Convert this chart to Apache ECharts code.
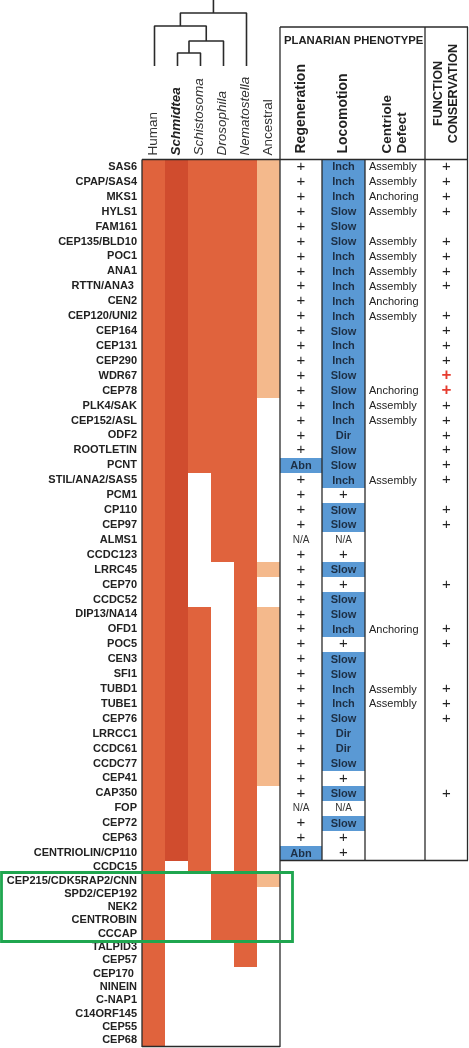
<!DOCTYPE html>
<html><head><meta charset="utf-8">
<script src="https://cdn.jsdelivr.net/npm/echarts@6/dist/echarts.min.js"></script>
<style>html,body{margin:0;padding:0;background:#fff}#c{width:469px;height:1048px}</style>
</head><body><div id="c"></div>
<script>
// ---------------- DATA ----------------
const species = ['Human','Schmidtea','Schistosoma','Drosophila','Nematostella','Ancestral'];

const genes = ['SAS6','CPAP/SAS4','MKS1','HYLS1','FAM161','CEP135/BLD10','POC1','ANA1','RTTN/ANA3 ','CEN2',
 'CEP120/UNI2','CEP164','CEP131','CEP290','WDR67','CEP78','PLK4/SAK','CEP152/ASL','ODF2','ROOTLETIN',
 'PCNT','STIL/ANA2/SAS5','PCM1','CP110','CEP97','ALMS1','CCDC123','LRRC45','CEP70','CCDC52',
 'DIP13/NA14','OFD1','POC5','CEN3','SFI1','TUBD1','TUBE1','CEP76','LRRCC1','CCDC61',
 'CCDC77','CEP41','CAP350','FOP','CEP72','CEP63','CENTRIOLIN/CP110','CCDC15','CEP215/CDK5RAP2/CNN','SPD2/CEP192',
 'NEK2','CENTROBIN','CCCAP','TALPID3','CEP57','CEP170 ','NINEIN','C-NAP1','C14ORF145','CEP55',
 'CEP68'];

// presence (1) / absence (0) per gene, in gene order
const human =        [1,1,1,1,1,1,1,1,1,1, 1,1,1,1,1,1,1,1,1,1, 1,1,1,1,1,1,1,1,1,1, 1,1,1,1,1,1,1,1,1,1, 1,1,1,1,1,1,1,1,1,1, 1,1,1,1,1,1,1,1,1,1, 1];
const schmidtea =    [1,1,1,1,1,1,1,1,1,1, 1,1,1,1,1,1,1,1,1,1, 1,1,1,1,1,1,1,1,1,1, 1,1,1,1,1,1,1,1,1,1, 1,1,1,1,1,1,1,0,0,0, 0,0,0,0,0,0,0,0,0,0, 0];
const schistosoma =  [1,1,1,1,1,1,1,1,1,1, 1,1,1,1,1,1,1,1,1,1, 1,0,0,0,0,0,0,0,0,0, 1,1,1,1,1,1,1,1,1,1, 1,1,1,1,1,1,1,1,0,0, 0,0,0,0,0,0,0,0,0,0, 0];
const drosophila =   [1,1,1,1,1,1,1,1,1,1, 1,1,1,1,1,1,1,1,1,1, 1,1,1,1,1,1,1,0,0,0, 0,0,0,0,0,0,0,0,0,0, 0,0,0,0,0,0,0,0,1,1, 1,1,1,0,0,0,0,0,0,0, 0];
const nematostella = [1,1,1,1,1,1,1,1,1,1, 1,1,1,1,1,1,1,1,1,1, 1,1,1,1,1,1,1,1,1,1, 1,1,1,1,1,1,1,1,1,1, 1,1,1,1,1,1,1,1,1,1, 1,1,1,1,1,0,0,0,0,0, 0];
const ancestral =    [1,1,1,1,1,1,1,1,1,1, 1,1,1,1,1,1,0,0,0,0, 0,0,0,0,0,0,0,1,0,0, 1,1,1,1,1,1,1,1,1,1, 1,1,0,0,0,0,0,0,1,0, 0,0,0,0,0,0,0,0,0,0, 0];
const presence = [human, schmidtea, schistosoma, drosophila, nematostella, ancestral];

// dendrogram: ((Human, ((Schmidtea, Schistosoma), Drosophila)), Nematostella)
const treeHeights = { schSch: 13, withDros: 25, withHuman: 40, root: 53, stem: 66 };

// planarian phenotype table (first 47 genes)
const regeneration = ['+','+','+','+','+','+','+','+','+','+', '+','+','+','+','+','+','+','+','+','+',
 'Abn','+','+','+','+','N/A','+','+','+','+', '+','+','+','+','+','+','+','+','+','+',
 '+','+','+','N/A','+','+','Abn'];
const locomotion = ['Inch','Inch','Inch','Slow','Slow','Slow','Inch','Inch','Inch','Inch',
 'Inch','Slow','Inch','Inch','Slow','Slow','Inch','Inch','Dir','Slow',
 'Slow','Inch','+','Slow','Slow','N/A','+','Slow','+','Slow',
 'Slow','Inch','+','Slow','Slow','Inch','Inch','Slow','Dir','Dir',
 'Slow','+','Slow','N/A','Slow','+','+'];
const centrioleDefect = ['Assembly','Assembly','Anchoring','Assembly','','Assembly','Assembly','Assembly','Assembly','Anchoring',
 'Assembly','','','','','Anchoring','Assembly','Assembly','','',
 '','Assembly','','','','','','','','',
 '','Anchoring','','','','Assembly','Assembly','','','',
 '','','','','','',''];
const conservation = ['+','+','+','+','','+','+','+','+','',
 '+','+','+','+','+','+','+','+','+','+',
 '+','+','','+','+','','','','+','',
 '','+','+','','','+','+','+','','',
 '','','+','','','',''];
const conservationHighlight = ['WDR67','CEP78'];
const tableHeaders = ['Regeneration','Locomotion','Centriole\nDefect','FUNCTION\nCONSERVATION'];

// ---------------- STYLE / LAYOUT ----------------
const FONT = '"Liberation Sans", Arial, Helvetica, sans-serif';
const speciesColors = ['#E0633D','#D04C2E','#E0633D','#E0633D','#E0633D','#F4B98C'];
const BLUE = '#5A99D4';
const LINE = '#2a2a2a';
const N1 = 47; // rows in upper block (with phenotype table)
const ROT = -90;

const chart = echarts.init(document.getElementById('c'), null, {renderer: 'canvas'});

// heatmap cells
const heatTop = [], heatBottom = [];
presence.forEach((arr, s) => arr.forEach((v, r) => {
  if (!v) return;
  if (r < N1) heatTop.push([s, r]); else heatBottom.push([s, r - N1]);
}));
function snapRect(c, sz) {
  const x0 = Math.round(c[0] - sz[0] / 2), x1 = Math.round(c[0] + sz[0] / 2);
  const y0 = Math.round(c[1] - sz[1] / 2), y1 = Math.round(c[1] + sz[1] / 2);
  return {x: x0, y: y0, width: x1 - x0, height: y1 - y0};
}
function heatCell(params, api) {
  const s = api.value(0), r = api.value(1);
  const c = api.coord([s, r]);
  const sz = api.size([1, 1]);
  return {type: 'rect', shape: snapRect(c, sz), style: {fill: speciesColors[s]}};
}

// dendrogram segments
const tips = {};
species.slice(0, 5).forEach((n, i) => tips[n] = {x: i + 0.5, h: 0});
const segs = [];
function join(a, b, h) {
  segs.push([[a.x, a.h], [a.x, h], [b.x, h], [b.x, b.h]]);
  return {x: (a.x + b.x) / 2, h: h};
}
const nA = join(tips.Schmidtea, tips.Schistosoma, treeHeights.schSch);
const nB = join(nA, tips.Drosophila, treeHeights.withDros);
const nC = join(tips.Human, nB, treeHeights.withHuman);
const nR = join(nC, tips.Nematostella, treeHeights.root);
segs.push([[nR.x, nR.h], [nR.x, treeHeights.stem]]);

const tableRows = genes.slice(0, N1);
const rowData = tableRows.map((g, i) => [0, i]);

function textEl(x, y, text, opt) {
  return {type: 'text', style: Object.assign({text: text, x: x, y: y, align: 'center', verticalAlign: 'middle',
    fontFamily: FONT, fontSize: 11, fill: '#222'}, opt || {})};
}
function cellBox(api, idx) {
  const c = api.coord([0, idx]);
  const sz = api.size([1, 1]);
  return {c, sz, x0: c[0] - sz[0] / 2, y0: c[1] - sz[1] / 2};
}
function plusStyle(v) {
  return v === '+' ? {fontSize: 15, fontWeight: 'normal'} : {fontSize: 10, fontWeight: 'normal', fill: '#333'};
}
function blueCell(b, v) {
  return [
    {type: 'rect', shape: snapRect(b.c, b.sz), style: {fill: BLUE}},
    textEl(b.c[0], b.c[1] + 0.5, v, {fontWeight: 'bold', fontSize: 11, fill: '#1d2f45'})
  ];
}
function regenRender(params, api) {
  const v = regeneration[params.dataIndex];
  const b = cellBox(api, params.dataIndex);
  const ch = v === 'Abn' ? blueCell(b, v) : [textEl(b.c[0], b.c[1], v, plusStyle(v))];
  return {type: 'group', children: ch};
}
function locoRender(params, api) {
  const v = locomotion[params.dataIndex];
  const b = cellBox(api, params.dataIndex);
  const ch = (v !== '+' && v !== 'N/A') ? blueCell(b, v) : [textEl(b.c[0], b.c[1], v, plusStyle(v))];
  return {type: 'group', children: ch};
}
function defectRender(params, api) {
  const v = centrioleDefect[params.dataIndex];
  const b = cellBox(api, params.dataIndex);
  return textEl(b.x0 + 4, b.c[1] + 0.5, v, {align: 'left', fontSize: 11});
}
function consRender(params, api) {
  const v = conservation[params.dataIndex];
  const b = cellBox(api, params.dataIndex);
  const red = conservationHighlight.indexOf(tableRows[params.dataIndex]) >= 0;
  return textEl(b.c[0], b.c[1], v, red ? {fontSize: 17, fontWeight: 'bold', fill: '#E63B2E'} : {fontSize: 15});
}

const hidden = {axisLine: {show: false}, axisTick: {show: false}, splitLine: {show: false}};
const tableGridDefs = [[280, 42], [322, 43], [365, 60], [425, 43]];

const grids = [
  {left: 143, top: 0, width: 138, height: 66},
  {left: 142, top: 159.5, width: 138, height: 701},
  {left: 142, top: 860.5, width: 138, height: 186.5}
].concat(tableGridDefs.map(d => ({left: d[0], top: 159.5, width: d[1], height: 701})));

const xAxes = [
  Object.assign({type: 'value', gridIndex: 0, min: 0, max: 6, show: false}, hidden),
  Object.assign({type: 'category', gridIndex: 1, data: species, position: 'top',
    axisLabel: {interval: 0, rotate: ROT, margin: 4, fontFamily: FONT, fontSize: 13.5, color: '#333',
      formatter: v => v === 'Schmidtea' ? '{bi|' + v + '}' : (['Schistosoma','Drosophila','Nematostella'].indexOf(v) >= 0 ? '{i|' + v + '}' : v),
      rich: {bi: {fontStyle: 'italic', fontWeight: 'bold', fontSize: 13.5, fontFamily: FONT, color: '#222'},
             i: {fontStyle: 'italic', fontSize: 13.5, fontFamily: FONT, color: '#333'}}}}, hidden),
  Object.assign({type: 'category', gridIndex: 2, data: species, axisLabel: {show: false}}, hidden)
].concat(tableHeaders.map((h, k) => Object.assign({type: 'category', gridIndex: 3 + k, data: [h], position: 'top',
  axisLabel: k === 3
    ? {interval: 0, rotate: ROT, margin: 66, align: 'center', fontFamily: FONT, fontWeight: 'bold', fontSize: 12.6, lineHeight: 15, color: '#222'}
    : {interval: 0, rotate: ROT, margin: 6, fontFamily: FONT, fontWeight: 'bold', fontSize: k === 2 ? 13.5 : 14, lineHeight: 15, color: '#222',
       padding: k === 2 ? [8, 0, 0, 0] : 0}
}, hidden)));

const yAxes = [
  Object.assign({type: 'value', gridIndex: 0, min: 0, max: treeHeights.stem, show: false}, hidden),
  Object.assign({type: 'category', gridIndex: 1, data: genes.slice(0, N1), inverse: true,
    axisLabel: {interval: 0, margin: 5, fontFamily: FONT, fontWeight: 'bold', fontSize: 11, color: '#222'}}, hidden),
  Object.assign({type: 'category', gridIndex: 2, data: genes.slice(N1), inverse: true,
    axisLabel: {interval: 0, margin: 5, fontFamily: FONT, fontWeight: 'bold', fontSize: 11, color: '#222', padding: [2, 0, 0, 0]}}, hidden)
].concat(tableHeaders.map((h, k) => Object.assign({type: 'category', gridIndex: 3 + k, data: tableRows, inverse: true, axisLabel: {show: false}}, hidden)));

const series = segs.map(s => ({type: 'line', xAxisIndex: 0, yAxisIndex: 0, data: s, symbol: 'none', silent: true,
  lineStyle: {color: LINE, width: 1.6}, animation: false, clip: false}));
series.push({type: 'custom', xAxisIndex: 1, yAxisIndex: 1, data: heatTop, renderItem: heatCell, silent: true, animation: false});
series.push({type: 'custom', xAxisIndex: 2, yAxisIndex: 2, data: heatBottom, renderItem: heatCell, silent: true, animation: false});
[regenRender, locoRender, defectRender, consRender].forEach((fn, k) => series.push({
  type: 'custom', xAxisIndex: 3 + k, yAxisIndex: 3 + k, data: rowData, renderItem: fn, silent: true, animation: false}));

// frame lines (layout)
const frame = [
  [142, 159.5, 142, 1047], [142, 1046.5, 280, 1046.5], [142, 159.5, 468, 159.5], [280, 27, 280, 1047],
  [280, 27, 468, 27], [467.5, 27, 467.5, 860.5], [425, 27, 425, 860.5], [322, 159.5, 322, 860.5],
  [365, 159.5, 365, 860.5], [280, 860.5, 468, 860.5]
];
const graphic = frame.map(f => ({type: 'line', z: 100, silent: true,
  shape: {x1: f[0], y1: f[1], x2: f[2], y2: f[3]}, style: {stroke: LINE, lineWidth: 1.3}}));
graphic.push({type: 'rect', z: 101, silent: true, shape: {x: 1.5, y: 872.5, width: 291, height: 69},
  style: {fill: 'none', stroke: '#1FA64F', lineWidth: 2.8}});

chart.setOption({
  backgroundColor: '#fff',
  animation: false,
  title: {text: 'PLANARIAN PHENOTYPE', left: 284, top: 35, padding: 0,
    textStyle: {fontFamily: FONT, fontWeight: 'bold', fontSize: 11.3, color: '#222'}},
  grid: grids,
  xAxis: xAxes,
  yAxis: yAxes,
  series: series,
  graphic: graphic
});
</script>
</body></html>
